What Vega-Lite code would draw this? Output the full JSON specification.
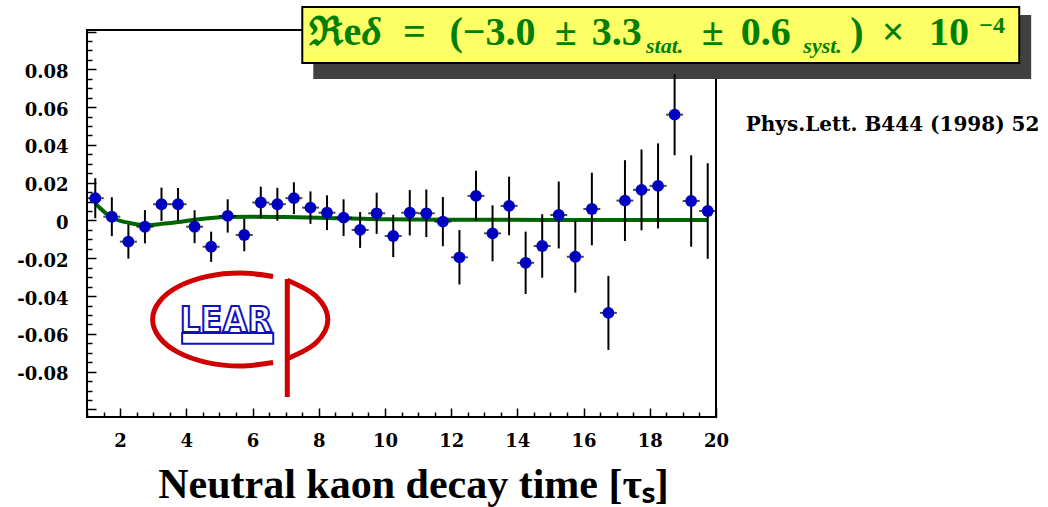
{
  "$schema": "https://vega.github.io/schema/vega-lite/v6.json",
  "width": 629,
  "height": 387,
  "autosize": {"type": "none"},
  "padding": {"left": 87, "top": 30, "right": 332, "bottom": 90},
  "background": "white",
  "config": {
    "view": {"stroke": "black", "strokeWidth": 2},
    "axis": {"grid": false, "domain": false, "labelFont": "DejaVu Serif", "labelFontWeight": "bold", "labelFontSize": 18, "labelColor": "black", "tickColor": "black", "tickWidth": 1.5, "labelFlush": false, "labelOverlap": false, "labelBound": false}
  },
  "datasets": {
    "points": [
      {"x": 1.25, "y": 0.0118, "err": 0.0106},
      {"x": 1.75, "y": 0.002, "err": 0.0103},
      {"x": 2.25, "y": -0.0112, "err": 0.009},
      {"x": 2.75, "y": -0.0033, "err": 0.0088},
      {"x": 3.25, "y": 0.0086, "err": 0.0088},
      {"x": 3.75, "y": 0.0086, "err": 0.0086},
      {"x": 4.25, "y": -0.0033, "err": 0.0087},
      {"x": 4.75, "y": -0.0139, "err": 0.008},
      {"x": 5.25, "y": 0.0024, "err": 0.0088},
      {"x": 5.75, "y": -0.0077, "err": 0.0086},
      {"x": 6.25, "y": 0.0095, "err": 0.0084},
      {"x": 6.75, "y": 0.0086, "err": 0.0087},
      {"x": 7.25, "y": 0.0118, "err": 0.0084},
      {"x": 7.75, "y": 0.0068, "err": 0.0086},
      {"x": 8.25, "y": 0.0041, "err": 0.0092},
      {"x": 8.75, "y": 0.0015, "err": 0.0097},
      {"x": 9.25, "y": -0.005, "err": 0.0095},
      {"x": 9.75, "y": 0.0038, "err": 0.0109},
      {"x": 10.25, "y": -0.0082, "err": 0.0112},
      {"x": 10.75, "y": 0.0041, "err": 0.012},
      {"x": 11.25, "y": 0.0038, "err": 0.0126},
      {"x": 11.75, "y": -0.0006, "err": 0.013},
      {"x": 12.25, "y": -0.0195, "err": 0.0144},
      {"x": 12.75, "y": 0.013, "err": 0.0133},
      {"x": 13.25, "y": -0.0068, "err": 0.0148},
      {"x": 13.75, "y": 0.0077, "err": 0.0155},
      {"x": 14.25, "y": -0.0224, "err": 0.0165},
      {"x": 14.75, "y": -0.0135, "err": 0.0168},
      {"x": 15.25, "y": 0.0029, "err": 0.0177},
      {"x": 15.75, "y": -0.0192, "err": 0.019},
      {"x": 16.25, "y": 0.0061, "err": 0.0192},
      {"x": 16.75, "y": -0.0489, "err": 0.0196},
      {"x": 17.25, "y": 0.0105, "err": 0.0214},
      {"x": 17.75, "y": 0.0162, "err": 0.0214},
      {"x": 18.25, "y": 0.0183, "err": 0.0225},
      {"x": 18.75, "y": 0.056, "err": 0.0215},
      {"x": 19.25, "y": 0.0103, "err": 0.0242},
      {"x": 19.75, "y": 0.005, "err": 0.0253}
    ],
    "fit": [
      {"x": 1.25, "y": 0.009},
      {"x": 1.75, "y": 0.0015},
      {"x": 2.25, "y": -0.0012},
      {"x": 2.75, "y": -0.0024},
      {"x": 3.25, "y": -0.0018},
      {"x": 3.75, "y": -0.0008},
      {"x": 4.25, "y": 0.0004},
      {"x": 4.75, "y": 0.0013},
      {"x": 5.25, "y": 0.0018},
      {"x": 6.0, "y": 0.002},
      {"x": 7.0, "y": 0.0018},
      {"x": 8.0, "y": 0.0014},
      {"x": 9.0, "y": 0.001},
      {"x": 10.0, "y": 0.0006},
      {"x": 12.0, "y": 0.0004},
      {"x": 15.0, "y": 0.0003},
      {"x": 19.75, "y": 0.0003}
    ],
    "shadow": [{"x": 7.836, "x2": 29.52, "y": 0.1087, "y2": 0.0749}],
    "box": [{"x": 7.503, "x2": 29.16, "y": 0.113, "y2": 0.0833}],
    "titleMain": [
      {"x": 8.5, "y": 0.0929, "text": "ℜe"},
      {"x": 10.89, "y": 0.0929, "text": "="},
      {"x": 13.25, "y": 0.0929, "text": "(−3.0"},
      {"x": 15.46, "y": 0.0929, "text": "±"},
      {"x": 17.0, "y": 0.0929, "text": "3.3"},
      {"x": 19.9, "y": 0.0929, "text": "±"},
      {"x": 21.5, "y": 0.0929, "text": "0.6"},
      {"x": 24.26, "y": 0.0929, "text": ")"},
      {"x": 25.35, "y": 0.0929, "text": "×"},
      {"x": 27.04, "y": 0.0929, "text": "10"}
    ],
    "titleItalic": [
      {"x": 9.6, "y": 0.0929, "text": "δ"}
    ],
    "titleSub": [
      {"x": 18.45, "y": 0.0886, "text": "stat."},
      {"x": 23.22, "y": 0.0886, "text": "syst."}
    ],
    "titleSup": [{"x": 28.34, "y": 0.0992, "text": "−4"}],
    "reference": [{"x": 20.9, "y": 0.0474, "text": "Phys.Lett. B444 (1998) 52"}],
    "logoArcs": [
      {"part": "C", "i": 0, "x": 6.62, "y": -0.0296},
      {"part": "C", "i": 1, "x": 5.628, "y": -0.0278},
      {"part": "C", "i": 2, "x": 4.636, "y": -0.0296},
      {"part": "C", "i": 3, "x": 3.756, "y": -0.035},
      {"part": "C", "i": 4, "x": 3.193, "y": -0.0428},
      {"part": "C", "i": 5, "x": 2.981, "y": -0.0524},
      {"part": "C", "i": 6, "x": 3.193, "y": -0.062},
      {"part": "C", "i": 7, "x": 3.756, "y": -0.0698},
      {"part": "C", "i": 8, "x": 4.636, "y": -0.0752},
      {"part": "C", "i": 9, "x": 5.628, "y": -0.077},
      {"part": "C", "i": 10, "x": 6.62, "y": -0.0752},
      {"part": "P", "i": 0, "x": 7.05, "y": -0.0316},
      {"part": "P", "i": 1, "x": 7.921, "y": -0.0401},
      {"part": "P", "i": 2, "x": 8.275, "y": -0.0524},
      {"part": "P", "i": 3, "x": 7.921, "y": -0.0647},
      {"part": "P", "i": 4, "x": 7.05, "y": -0.0731}
    ],
    "logoStem": [{"x": 7.05, "y": -0.0934, "y2": -0.031}],
    "logoText": [{"x": 5.2, "y": -0.0588, "text": "LEAR"}],
    "logoBar": [{"x": 3.874, "x2": 6.626, "y": -0.0595, "y2": -0.0653}]
  },
  "encoding": {
    "x": {
      "field": "x", "type": "quantitative",
      "scale": {"domain": [1, 20], "nice": false, "zero": false},
      "axis": {
        "title": "Neutral kaon decay time [τₛ]",
        "titleFont": "Liberation Serif", "titleFontWeight": "bold", "titleFontSize": 42, "titleColor": "black", "titlePadding": 10, "titleX": 326,
        "values": [1, 1.5, 2, 2.5, 3, 3.5, 4, 4.5, 5, 5.5, 6, 6.5, 7, 7.5, 8, 8.5, 9, 9.5, 10, 10.5, 11, 11.5, 12, 12.5, 13, 13.5, 14, 14.5, 15, 15.5, 16, 16.5, 17, 17.5, 18, 18.5, 19, 19.5, 20],
        "labelExpr": "datum.value % 2 === 0 ? format(datum.value, 'd') : ''",
        "tickSize": {"condition": {"test": "datum.value % 2 === 0", "value": -9}, "value": -5},
        "labelPadding": 24
      }
    },
    "y": {
      "field": "y", "type": "quantitative",
      "scale": {"domain": [-0.104, 0.1008], "nice": false, "zero": false},
      "axis": {
        "title": null,
        "values": [-0.1, -0.095, -0.09, -0.085, -0.08, -0.075, -0.07, -0.065, -0.06, -0.055, -0.05, -0.045, -0.04, -0.035, -0.03, -0.025, -0.02, -0.015, -0.01, -0.005, 0, 0.005, 0.01, 0.015, 0.02, 0.025, 0.03, 0.035, 0.04, 0.045, 0.05, 0.055, 0.06, 0.065, 0.07, 0.075, 0.08, 0.085, 0.09, 0.095, 0.1],
        "labelExpr": "abs(round(datum.value*1000)) % 20 === 0 && abs(datum.value) < 0.09 ? (datum.value === 0 ? '0' : (datum.value < 0 ? '-' : '') + format(abs(datum.value), '.2f')) : ''",
        "tickSize": {"condition": {"test": "abs(round(datum.value*1000)) % 20 === 0", "value": -9}, "value": -5},
        "labelPadding": 28,
        "labelOffset": 3
      }
    }
  },
  "layer": [
    {"data": {"name": "shadow"}, "mark": {"type": "rect", "fill": "#404040"}, "encoding": {"x2": {"field": "x2"}, "y2": {"field": "y2"}}},
    {"data": {"name": "box"}, "mark": {"type": "rect", "fill": "#ffff66", "stroke": "black", "strokeWidth": 2}, "encoding": {"x2": {"field": "x2"}, "y2": {"field": "y2"}}},
    {"data": {"name": "titleMain"}, "mark": {"type": "text", "font": "Liberation Serif", "fontWeight": "bold", "fontSize": 40, "color": "#008000", "align": "center", "baseline": "alphabetic"}, "encoding": {"text": {"field": "text"}}},
    {"data": {"name": "titleItalic"}, "mark": {"type": "text", "font": "Liberation Serif", "fontWeight": "bold", "fontStyle": "italic", "fontSize": 40, "color": "#008000", "align": "center", "baseline": "alphabetic"}, "encoding": {"text": {"field": "text"}}},
    {"data": {"name": "titleSub"}, "mark": {"type": "text", "font": "Liberation Serif", "fontWeight": "bold", "fontStyle": "italic", "fontSize": 22, "color": "#008000", "align": "center", "baseline": "alphabetic"}, "encoding": {"text": {"field": "text"}}},
    {"data": {"name": "titleSup"}, "mark": {"type": "text", "font": "Liberation Serif", "fontWeight": "bold", "fontSize": 24, "color": "#008000", "align": "center", "baseline": "alphabetic"}, "encoding": {"text": {"field": "text"}}},
    {"data": {"name": "reference"}, "mark": {"type": "text", "font": "DejaVu Serif", "fontWeight": "bold", "fontSize": 20, "color": "black", "align": "left", "baseline": "alphabetic"}, "encoding": {"text": {"field": "text"}}},
    {"data": {"name": "logoArcs"}, "mark": {"type": "line", "interpolate": "cardinal", "stroke": "#d00000", "strokeWidth": 5}, "encoding": {"detail": {"field": "part"}, "order": {"field": "i"}}},
    {"data": {"name": "logoStem"}, "mark": {"type": "rule", "stroke": "#d00000", "strokeWidth": 5}, "encoding": {"y2": {"field": "y2"}}},
    {"data": {"name": "logoBar"}, "mark": {"type": "rect", "fill": "white", "stroke": "#1010c0", "strokeWidth": 2}, "encoding": {"x2": {"field": "x2"}, "y2": {"field": "y2"}}},
    {"data": {"name": "logoText"}, "mark": {"type": "text", "font": "DejaVu Sans Condensed", "fontWeight": "bold", "fontSize": 36, "fill": "white", "stroke": "#1010c0", "strokeWidth": 2, "align": "center", "baseline": "alphabetic"}, "encoding": {"text": {"field": "text"}}},
    {"data": {"name": "fit"}, "mark": {"type": "line", "interpolate": "monotone", "stroke": "#006400", "strokeWidth": 4}, "encoding": {}},
    {"data": {"name": "points"}, "mark": {"type": "errorbar", "rule": {"stroke": "black", "strokeWidth": 2}}, "encoding": {"yError": {"field": "err"}}},
    {"data": {"name": "points"}, "mark": {"type": "tick", "orient": "horizontal", "size": 17, "thickness": 2, "color": "black"}, "encoding": {}},
    {"data": {"name": "points"}, "mark": {"type": "point", "shape": "circle", "filled": true, "size": 140, "color": "#0000c0", "opacity": 1}, "encoding": {}}
  ]
}
